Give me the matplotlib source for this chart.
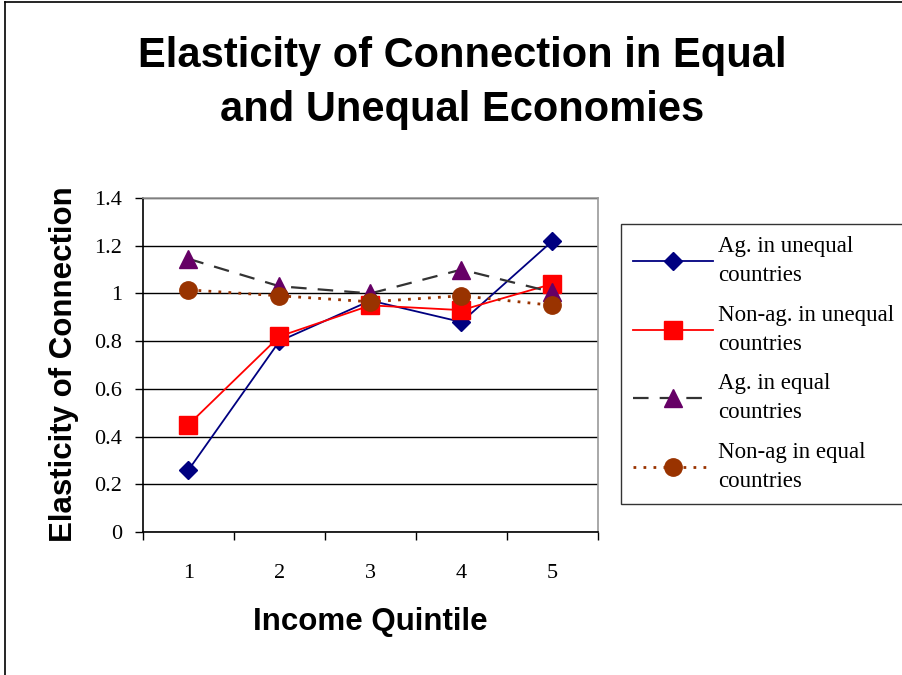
import matplotlib
matplotlib.use("Agg")
import matplotlib.pyplot as plt
from matplotlib.lines import Line2D
from matplotlib.ticker import FixedLocator, FuncFormatter

# Income quintiles and elasticity estimates per group
quintiles = [1, 2, 3, 4, 5]
ag_unequal = [0.26, 0.80, 0.97, 0.88, 1.22]
nonag_unequal = [0.45, 0.82, 0.95, 0.93, 1.04]
ag_equal = [1.145, 1.03, 1.00, 1.10, 1.005]
nonag_equal = [1.015, 0.99, 0.965, 0.99, 0.95]

series_labels = [
    "Ag. in unequal\ncountries",
    "Non-ag. in unequal\ncountries",
    "Ag. in equal\ncountries",
    "Non-ag in equal\ncountries",
]
y_ticks = [0, 0.2, 0.4, 0.6, 0.8, 1.0, 1.2, 1.4]

W, H = 903, 675
fig = plt.figure(figsize=(W / 100, H / 100), dpi=100)
fig.patch.set_facecolor("white")

serif = ["Liberation Serif", "DejaVu Serif"]
sans = ["Liberation Sans", "DejaVu Sans"]

# plot area in pixel units
px_l, px_r, px_t, px_b = 143, 598, 198, 532
ax = fig.add_axes([px_l / W, 1 - px_b / H, (px_r - px_l) / W, (px_b - px_t) / H])

ax.plot(quintiles, ag_unequal, color="#000080", lw=1.3, marker="D", ms=9.5,
        mfc="#000080", mec="#000080", label=series_labels[0], zorder=3)
ax.plot(quintiles, nonag_unequal, color="#FF0000", lw=1.3, marker="s", ms=12.5,
        mfc="#FF0000", mec="#FF0000", label=series_labels[1], zorder=4)
ax.plot(quintiles, ag_equal, color="#333333", lw=1.6, ls=(0, (7, 5)), marker="^", ms=12.5,
        mfc="#660066", mec="#660066", label=series_labels[2], zorder=5)
ax.plot(quintiles, nonag_equal, color="#993300", lw=2.0, ls=(0, (1, 2.6)), marker="o", ms=12.5,
        mfc="#993300", mec="#993300", label=series_labels[3], zorder=6)

ax.set_xlim(0.5, 5.5)
ax.set_ylim(0, 1.4)

ax.yaxis.set_major_locator(FixedLocator(y_ticks))
ax.yaxis.set_major_formatter(FuncFormatter(lambda v, p: f"{v:g}"))
ax.grid(axis="y", color="black", lw=1.0, zorder=1)
ax.set_axisbelow(True)

ax.set_xticks(quintiles)
ax.set_xticks([0.5, 1.5, 2.5, 3.5, 4.5, 5.5], minor=True)
ax.tick_params(axis="x", which="major", length=0, pad=23, labelsize=16)
ax.tick_params(axis="x", which="minor", length=6, width=1, direction="out", color="black")
ax.tick_params(axis="y", which="major", length=6, width=1, direction="out", pad=9,
               labelsize=16, color="black")
for lbl in ax.get_xticklabels() + ax.get_yticklabels():
    lbl.set_family(serif)

ax.spines["left"].set_color("black")
ax.spines["bottom"].set_color("black")
ax.spines["top"].set_color("#999999")
ax.spines["right"].set_color("#999999")
for s in ax.spines.values():
    s.set_linewidth(1.2)

leg = ax.legend(loc="upper left", bbox_to_anchor=(621 / W, 1 - 224 / H),
                bbox_transform=fig.transFigure, borderaxespad=0,
                prop={"family": serif, "size": 16.5}, frameon=True, fancybox=False,
                edgecolor="black", handlelength=3.5, handletextpad=0.2,
                labelspacing=0.82, borderpad=0.52, markerscale=1.0)
leg.get_frame().set_linewidth(1.0)
for t in leg.get_texts():
    t.set_linespacing(1.5)

fig.text(462 / W, 1 - 121.5 / H, "Elasticity of Connection in Equal\nand Unequal Economies",
         ha="center", va="baseline", fontsize=30, fontweight="bold", family=sans,
         linespacing=1.47)
fig.text(64 / W, 1 - 364 / H, "Elasticity of Connection", rotation=90,
         ha="center", va="center", fontsize=22.5, fontweight="bold", family=sans)
fig.text(370 / W, 1 - 622 / H, "Income Quintile",
         ha="center", va="center", fontsize=22.5, fontweight="bold", family=sans)

# outer chart border
fig.add_artist(Line2D([5 / W, 5 / W], [0, 1 - 2 / H], color="black", lw=1.2,
                      transform=fig.transFigure))
fig.add_artist(Line2D([5 / W, 1], [1 - 2 / H, 1 - 2 / H], color="black", lw=1.2,
                      transform=fig.transFigure))

fig.savefig("out.png", dpi=100)
